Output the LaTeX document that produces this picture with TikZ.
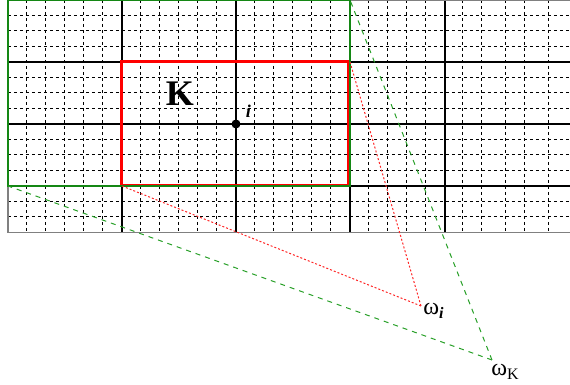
\documentclass[tikz,border=0pt]{standalone}
\usepackage{fontspec}
\setmainfont{Liberation Serif}
\usepackage{xcolor}
\usetikzlibrary{positioning}

\definecolor{kgreen}{RGB}{20,135,20}
\definecolor{lgreen}{RGB}{40,160,40}

\begin{document}
\begin{tikzpicture}[
    x=0.5pt, y=-0.5pt,
    every node/.style={inner sep=0pt},
    fine/.style={black, line width=0.5pt, dash pattern=on 1.6pt off 1.4pt},
    major/.style={black, line width=1.2pt},
    frame/.style={gray, line width=0.7pt},
    cellK/.style={red, line width=1.5pt},
    patch/.style={kgreen, line width=1pt},
    redlink/.style={red!85, line width=0.5pt, dash pattern=on 1pt off 1pt},
    greenlink/.style={lgreen, line width=0.5pt, dash pattern=on 2.5pt off 2.5pt},
    lbl/.style={font=\fontsize{12}{12}\selectfont},
]
    \useasboundingbox (0,0) rectangle (570,385);

    % fine mesh
    \foreach \x in {27,46,...,426,463,482,506,525,549}
        \draw[fine] (\x,0) -- (\x,232.5);
    \foreach \y in {15.5,31,...,218}
        \draw[fine] (8,\y) -- (570,\y);

    % coarse mesh
    \foreach \x in {122,236,350,445}
        \draw[major] (\x,0) -- (\x,232.5);
    \foreach \y in {62,124,186}
        \draw[major] (8,\y) -- (570,\y);
    \draw[frame] (570,0) -- (8,0) -- (8,232.5) -- (570,232.5);

    % element K and its patch
    \coordinate (Kbl) at (122,186);
    \coordinate (Ktr) at (350,62);
    \coordinate (Gbl) at (8,186);
    \coordinate (Gtr) at (350,0);
    \draw[cellK] (122,62) rectangle (349,186);
    \draw[patch] (Gbl) rectangle (Gtr);

    \node[font=\fontsize{18}{18}\selectfont\bfseries] (K) at (180,94) {K};
    \node[circle, fill=black, minimum size=4.5pt] (i) at (236,124) {};
    \node[font=\fontsize{9}{9}\selectfont\bfseries\itshape, above right=1.5pt and 3pt of i] (ilab) {i};

    % supports
    \coordinate (wi) at (421,306);
    \coordinate (wK) at (492,360);
    \node[lbl, anchor=west] (wilab) at (423,311) {ω\textsubscript{\bfseries\itshape i}};
    \node[lbl, anchor=west] (wKlab) at (491,372) {ω\textsubscript{K}};

    \draw[redlink] (wi) -- (Kbl);
    \draw[redlink] (wi) -- (Ktr);
    \draw[greenlink] (wK) -- (Gbl);
    \draw[greenlink] (wK) -- (Gtr);
\end{tikzpicture}
\end{document}
